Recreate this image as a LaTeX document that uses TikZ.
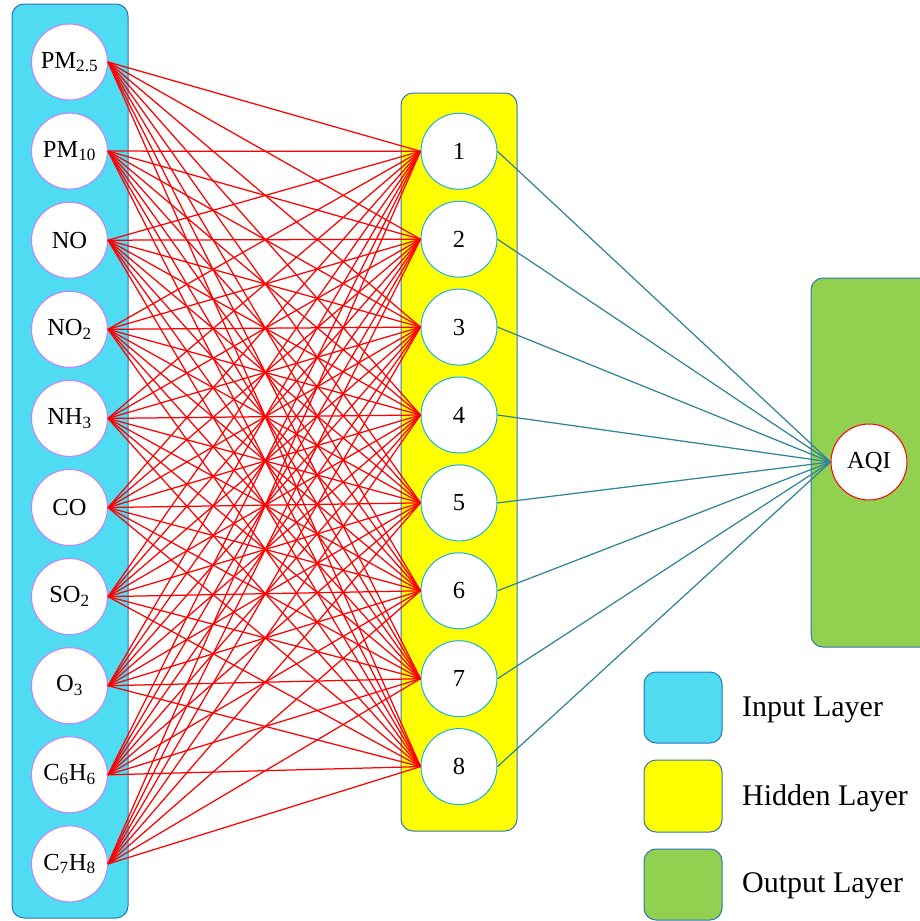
\documentclass[tikz,border=0pt]{standalone}
\usepackage{fontspec}
\setmainfont{Liberation Serif}
\definecolor{inFill}{HTML}{4FDCF2}
\definecolor{hidFill}{HTML}{FFFF00}
\definecolor{outFill}{HTML}{92D050}
\definecolor{boxEdge}{HTML}{2E75B6}
\definecolor{inEdge}{HTML}{C77DFF}
\definecolor{hidEdge}{HTML}{1AAFE6}
\definecolor{tealLine}{HTML}{31849B}
\begin{document}
\begin{tikzpicture}[x=1pt,y=-1pt,
  layerbox/.style={draw=boxEdge, line width=1pt, rounded corners=12pt},
  neuron/.style={circle, fill=white, minimum size=76pt, inner sep=0pt,
    line width=1pt, font=\fontsize{24.5}{24.5}\selectfont},
  inneuron/.style={neuron, draw=inEdge},
  hidneuron/.style={neuron, draw=hidEdge},
  outneuron/.style={neuron, draw=red},
  redline/.style={draw=red, line width=1.25pt},
  tealline/.style={draw=tealLine, line width=1.25pt},
  legendtext/.style={anchor=west, inner sep=0pt, font=\fontsize{30}{30}\selectfont}]
\useasboundingbox (0,0) rectangle (919,921);

% layer backgrounds
\path[layerbox, fill=inFill] (12,4) rectangle (128,918);
\path[layerbox, fill=hidFill] (401,93) rectangle (517,831);
\path[layerbox, fill=outFill] (811,278) rectangle (935,647);

% legend
\path[layerbox, fill=inFill] (644,672) rectangle (722,743);
\path[layerbox, fill=hidFill] (644,760) rectangle (722,832);
\path[layerbox, fill=outFill] (644,849) rectangle (722,920);
\node[legendtext] (lg1) at (742,710) {Input Layer};
\node[legendtext] (lg2) at (742,798) {Hidden Layer};
\node[legendtext] (lg3) at (742,886) {Output Layer};

% input neurons
\foreach \lab [count=\i from 0] in {PM\textsubscript{2.5}, PM\textsubscript{10}, NO,
    NO\textsubscript{2}, NH\textsubscript{3}, CO, SO\textsubscript{2}, O\textsubscript{3},
    C\textsubscript{6}H\textsubscript{6}, C\textsubscript{7}H\textsubscript{8}}
  \node[inneuron] (in\i) at (69.5,{62+89.1*\i}) {\lab};

% hidden neurons
\foreach \j in {1,...,8}
  \node[hidneuron] (hid\j) at (459,{151.3+87.9*(\j-1)}) {\j};

% output neuron
\node[outneuron] (out) at (869,462) {AQI};

% connections
\foreach \i in {0,...,9}
  \foreach \j in {1,...,8}
    \draw[redline] (in\i.east) -- (hid\j.west);
\foreach \j in {1,...,8}
  \draw[tealline] (hid\j.east) -- (out.west);
\end{tikzpicture}
\end{document}
